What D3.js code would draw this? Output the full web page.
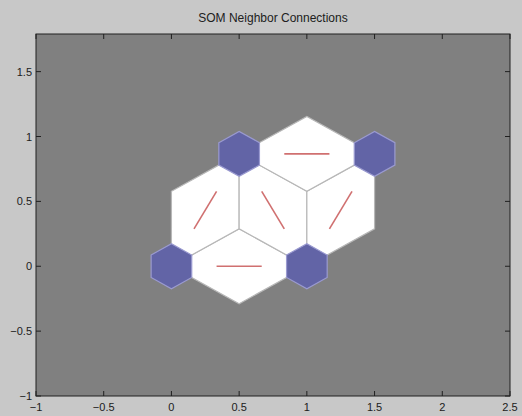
<!DOCTYPE html>
<html>
<head>
<meta charset="utf-8">
<script src="https://cdn.jsdelivr.net/npm/d3@7"></script>
<style>
  html, body { margin: 0; padding: 0; background: #c8c8c8; }
  svg { display: block; }
</style>
</head>
<body>
<svg id="chart" width="522" height="416"></svg>
<script>
// ---- data ----
const neuronX = [0, 1, 0.5, 1.5];
const neuronY = [0, 0, 0.866, 0.866];
const connections = [[0, 1], [0, 2], [1, 2], [1, 3], [2, 3]];
const xTicks = [-1, -0.5, 0, 0.5, 1, 1.5, 2, 2.5];
const yTicks = [-1, -0.5, 0, 0.5, 1, 1.5];
const xDomain = [-1, 2.5];
const yDomain = [-1, 1.79];
const titleText = "SOM Neighbor Connections";

// ---- layout ----
const W = 522, H = 416;
const mLeft = 36, mRight = 510, mTop = 34, mBottom = 396;
const svg = d3.select("#chart");
const x = d3.scaleLinear().domain(xDomain).range([mLeft, mRight]);
const y = d3.scaleLinear().domain(yDomain).range([mBottom, mTop]);

svg.append("rect").attr("width", W).attr("height", H).attr("fill", "#c8c8c8");
svg.append("rect").attr("x", mLeft).attr("y", mTop)
  .attr("width", mRight - mLeft).attr("height", mBottom - mTop).attr("fill", "#808080");

const line = d3.line().x(d => x(d[0])).y(d => y(d[1]));
const half = Math.sqrt(0.75) / 3;

// connection rhombi
const edges = connections.map(([i, j]) => {
  const xi = neuronX[i], yi = neuronY[i], xj = neuronX[j], yj = neuronY[j];
  const dx = xj - xi, dy = yj - yi, len = Math.hypot(dx, dy);
  const px = -dy / len * half, py = dx / len * half;
  const mx = (xi + xj) / 2, my = (yi + yj) / 2;
  return {
    poly: [[xi, yi], [mx + px, my + py], [xj, yj], [mx - px, my - py]],
    seg: [[(2 * xi + xj) / 3, (2 * yi + yj) / 3], [(xi + 2 * xj) / 3, (yi + 2 * yj) / 3]]
  };
});

svg.append("g").selectAll("path").data(edges).join("path")
  .attr("d", d => line(d.poly) + "Z")
  .attr("fill", "#ffffff").attr("stroke", "#b8b8b8").attr("stroke-width", 1.2);

svg.append("g").selectAll("path").data(edges).join("path")
  .attr("d", d => line(d.seg))
  .attr("fill", "none").attr("stroke", "#d07070").attr("stroke-width", 1.6);

// neurons
const hexX = [-1, 0, 1, 1, 0, -1].map(v => v * 0.5 * 0.3);
const hexY = [1, 2, 1, -1, -2, -1].map(v => v * Math.sqrt(0.75) / 3 * 0.3);
svg.append("g").selectAll("path").data(neuronX.map((v, i) => [v, neuronY[i]])).join("path")
  .attr("d", d => line(hexX.map((hx, k) => [d[0] + hx, d[1] + hexY[k]])) + "Z")
  .attr("fill", "#6264a6").attr("stroke", "#9a9ad0").attr("stroke-width", 1.2);

// axes
const tl = 5;
const axG = svg.append("g").attr("stroke", "#202020").attr("stroke-width", 1);
xTicks.forEach(t => {
  axG.append("line").attr("x1", x(t)).attr("x2", x(t)).attr("y1", mBottom).attr("y2", mBottom - tl);
  axG.append("line").attr("x1", x(t)).attr("x2", x(t)).attr("y1", mTop).attr("y2", mTop + tl);
});
yTicks.forEach(t => {
  axG.append("line").attr("y1", y(t)).attr("y2", y(t)).attr("x1", mLeft).attr("x2", mLeft + tl);
  axG.append("line").attr("y1", y(t)).attr("y2", y(t)).attr("x1", mRight).attr("x2", mRight - tl);
});
svg.append("rect").attr("x", mLeft).attr("y", mTop)
  .attr("width", mRight - mLeft).attr("height", mBottom - mTop)
  .attr("fill", "none").attr("stroke", "#202020").attr("stroke-width", 1);

const font = "Liberation Sans, Arial, sans-serif";
svg.append("g").selectAll("text").data(xTicks).join("text")
  .attr("x", d => x(d)).attr("y", mBottom + 15)
  .attr("text-anchor", "middle").attr("font-family", font).attr("font-size", 11)
  .attr("fill", "#202020").text(d => d3.format("")(d));
svg.append("g").selectAll("text").data(yTicks).join("text")
  .attr("x", mLeft - 4).attr("y", d => y(d) + 4)
  .attr("text-anchor", "end").attr("font-family", font).attr("font-size", 11)
  .attr("fill", "#202020").text(d => d3.format("")(d));

svg.append("text").attr("x", (mLeft + mRight) / 2).attr("y", 22)
  .attr("text-anchor", "middle").attr("font-family", font).attr("font-size", 12)
  .attr("fill", "#202020").text(titleText);
</script>
</body>
</html>
